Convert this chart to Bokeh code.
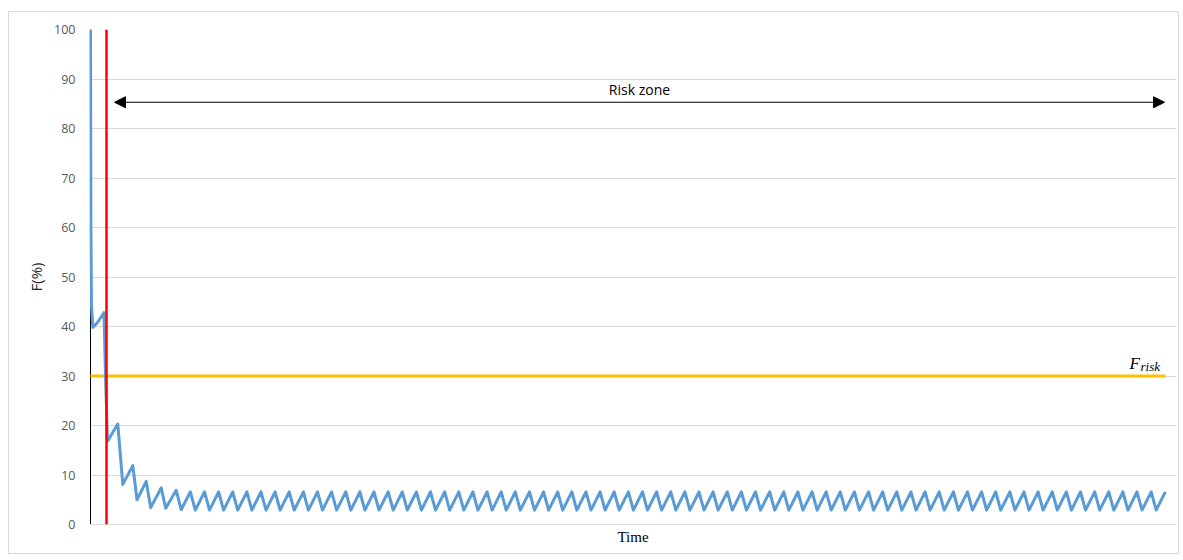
from bokeh.plotting import figure
from bokeh.models import Arrow, NormalHead, Label, Span, FixedTicker
from bokeh.embed import file_html
from bokeh.resources import INLINE

# ---------------- data (time in arbitrary steps, F in %) ----------------
onset_t = [0.0, 0.4, 1.0, 2.3, 7.0, 13.5, 15.0, 17.0, 27.3, 32.3, 42.3, 46.5, 55.7, 60.2, 70.7, 75.2]
onset_f = [100.0, 60.0, 44.0, 39.8, 40.8, 42.8, 30.0, 16.8, 20.3, 8.1, 11.9, 5.0, 8.7, 3.4, 7.4, 3.3]

peak_t = [85.7, 99.8, 114.0, 128.1, 142.2, 156.4, 170.5, 184.6, 198.7, 212.9,
          227.0, 241.1, 255.3, 269.4, 283.5, 297.7, 311.8, 325.9, 340.0, 354.2,
          368.3, 382.4, 396.6, 410.7, 424.8, 439.0, 453.1, 467.2, 481.3, 495.5,
          509.6, 523.7, 537.9, 552.0, 566.1, 580.3, 594.4, 608.5, 622.6, 636.8,
          650.9, 665.0, 679.2, 693.3, 707.4, 721.6, 735.7, 749.8, 763.9, 778.1,
          792.2, 806.3, 820.5, 834.6, 848.7, 862.9, 877.0, 891.1, 905.2, 919.4,
          933.5, 947.6, 961.8, 975.9, 990.0, 1004.2, 1018.3, 1032.4, 1046.5, 1060.7,
          1074.8]
peak_f = [6.9, 6.6, 6.6, 6.6, 6.6, 6.6, 6.6, 6.6, 6.6, 6.6,
          6.6, 6.6, 6.6, 6.6, 6.6, 6.6, 6.6, 6.6, 6.6, 6.6,
          6.6, 6.6, 6.6, 6.6, 6.6, 6.6, 6.6, 6.6, 6.6, 6.6,
          6.6, 6.6, 6.6, 6.6, 6.6, 6.6, 6.6, 6.6, 6.6, 6.6,
          6.6, 6.6, 6.6, 6.6, 6.6, 6.6, 6.6, 6.6, 6.6, 6.6,
          6.6, 6.6, 6.6, 6.6, 6.6, 6.6, 6.6, 6.6, 6.6, 6.6,
          6.6, 6.6, 6.6, 6.6, 6.6, 6.6, 6.6, 6.6, 6.6, 6.6,
          6.6]
trough_t = [90.7, 104.8, 119.0, 133.1, 147.2, 161.4, 175.5, 189.6, 203.7, 217.9,
            232.0, 246.1, 260.3, 274.4, 288.5, 302.7, 316.8, 330.9, 345.0, 359.2,
            373.3, 387.4, 401.6, 415.7, 429.8, 444.0, 458.1, 472.2, 486.3, 500.5,
            514.6, 528.7, 542.9, 557.0, 571.1, 585.3, 599.4, 613.5, 627.6, 641.8,
            655.9, 670.0, 684.2, 698.3, 712.4, 726.6, 740.7, 754.8, 768.9, 783.1,
            797.2, 811.3, 825.5, 839.6, 853.7, 867.9, 882.0, 896.1, 910.2, 924.4,
            938.5, 952.6, 966.8, 980.9, 995.0, 1009.2, 1023.3, 1037.4, 1051.5, 1065.7]
trough_f = [3.0, 2.9, 2.9, 2.9, 2.9, 2.9, 2.9, 2.9, 2.9, 2.9,
            2.9, 2.9, 2.9, 2.9, 2.9, 2.9, 2.9, 2.9, 2.9, 2.9,
            2.9, 2.9, 2.9, 2.9, 2.9, 2.9, 2.9, 2.9, 2.9, 2.9,
            2.9, 2.9, 2.9, 2.9, 2.9, 2.9, 2.9, 2.9, 2.9, 2.9,
            2.9, 2.9, 2.9, 2.9, 2.9, 2.9, 2.9, 2.9, 2.9, 2.9,
            2.9, 2.9, 2.9, 2.9, 2.9, 2.9, 2.9, 2.9, 2.9, 2.9,
            2.9, 2.9, 2.9, 2.9, 2.9, 2.9, 2.9, 2.9, 2.9, 2.9]

y_ticks = [0, 10, 20, 30, 40, 50, 60, 70, 80, 90, 100]
f_risk = 30
switch_time = 16
risk_zone_start = 24
risk_zone_end = 1074
risk_zone_level = 85.3
time_axis_start = -1
time_axis_end = 1086

# ---------------- build the series ----------------
time = list(onset_t)
f_val = list(onset_f)
for i in range(len(peak_t)):
    time.append(peak_t[i])
    f_val.append(peak_f[i])
    if i < len(trough_t):
        time.append(trough_t[i])
        f_val.append(trough_f[i])

p = figure(width=1171, height=543, x_range=(time_axis_start, time_axis_end),
           y_range=(y_ticks[0], y_ticks[-1]),
           output_backend="svg", toolbar_location=None,
           min_border_left=80, min_border_right=4, min_border_top=17, min_border_bottom=31)
p.margin = (11, 0, 0, 8)
p.styles = {"border": "1px solid #D9D9D9"}
p.outline_line_color = None
p.background_fill_color = "white"
p.border_fill_color = "white"

# grid
p.xgrid.grid_line_color = None
p.ygrid.ticker = FixedTicker(ticks=y_ticks)
p.ygrid.grid_line_color = "#D9D9D9"
p.ygrid.grid_line_width = 1

# y axis
p.yaxis.ticker = FixedTicker(ticks=y_ticks)
p.yaxis.axis_line_color = None
p.yaxis.major_tick_line_color = None
p.yaxis.minor_tick_line_color = None
p.yaxis.major_label_text_font = "Open Sans"
p.yaxis.major_label_text_font_size = "12.5px"
p.yaxis.major_label_text_color = "#595959"
p.yaxis.major_label_standoff = 8
p.yaxis.axis_label = "F(%)"
p.yaxis.axis_label_text_font = "Open Sans"
p.yaxis.axis_label_text_font_size = "15px"
p.yaxis.axis_label_text_font_style = "normal"
p.yaxis.axis_label_text_color = "#262626"
p.yaxis.axis_label_standoff = 5

# x axis
p.xaxis.ticker = FixedTicker(ticks=[])
p.xaxis.axis_line_color = "#D9D9D9"
p.xaxis.axis_line_width = 1
p.xaxis.major_tick_line_color = None
p.xaxis.minor_tick_line_color = None
p.xaxis.major_label_text_font_size = "0px"
p.xaxis.axis_label = "Time"
p.xaxis.axis_label_text_font = "Liberation Serif"
p.xaxis.axis_label_text_font_size = "15px"
p.xaxis.axis_label_text_font_style = "normal"
p.xaxis.axis_label_text_color = "black"
p.xaxis.axis_label_standoff = 4

# vertical axis line (black), drawn beneath the curve
p.line(x=[0, 0], y=[y_ticks[0], y_ticks[-1]], line_color="black", line_width=1)

# F risk line
p.line(x=[time[0], time[-1]], y=[f_risk, f_risk], line_color="#FFC000", line_width=3)

# F curve
p.line(x=time, y=f_val, line_color="#5B9BD5", line_width=3, line_join="round")

# switch moment (red line)
p.add_layout(Span(location=switch_time, dimension="height", line_color="#FF0000", line_width=2.5))

# risk zone arrow
p.add_layout(Arrow(start=NormalHead(size=11, fill_color="black", line_color="black"),
                   end=NormalHead(size=11, fill_color="black", line_color="black"),
                   x_start=risk_zone_start, y_start=risk_zone_level,
                   x_end=risk_zone_end, y_end=risk_zone_level,
                   line_color="black", line_width=1))
p.add_layout(Label(x=(risk_zone_start + risk_zone_end) / 2, y=risk_zone_level + 2.6, text="Risk zone",
                   text_align="center", text_baseline="middle",
                   text_font="Open Sans", text_font_size="14px", text_color="black"))

# F_risk label
p.add_layout(Label(x=1039, y=f_risk + 2.6, text="F", text_align="left", text_baseline="alphabetic",
                   text_font="Liberation Serif", text_font_style="italic", text_font_size="17px",
                   text_color="black"))
p.add_layout(Label(x=1050, y=f_risk + 2.0, text="risk", text_align="left", text_baseline="alphabetic",
                   text_font="Liberation Serif", text_font_style="italic", text_font_size="13px",
                   text_color="black"))

open("out.html", "w").write(file_html(p, INLINE))
